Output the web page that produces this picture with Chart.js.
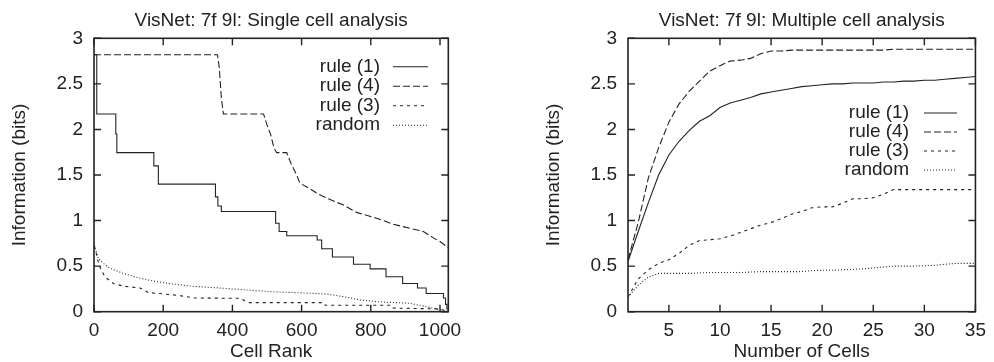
<!DOCTYPE html>
<html>
<head>
<meta charset="utf-8">
<script src="https://cdn.jsdelivr.net/npm/chart.js@4/dist/chart.umd.min.js"></script>
<style>
    body { margin: 0; background: #fff; }
    #wrap { position: relative; width: 994px; height: 362px; }
    canvas { position: absolute; top: 0; }
    #single { left: 0; }
    #multiple { left: 497px; }
</style>
</head>
<body>
<div id="wrap">
    <canvas id="single" width="497" height="362"></canvas>
    <canvas id="multiple" width="497" height="362"></canvas>
</div>
<script>
"use strict";

/* data: single cell analysis (x = cell rank, y = information in bits) */
var rankTicks = [0, 200, 400, 600, 800, 1000];
var rule1Rank = [0, 8, 63, 66, 173, 186, 351, 358, 368, 525, 535, 557, 645, 658, 689, 750, 798, 844, 892, 935, 960, 1010, 1016, 1020, 1024];
var rule1Info = [2.82, 2.17, 1.95, 1.745, 1.6, 1.4, 1.26, 1.16, 1.1, 0.97, 0.88, 0.834, 0.787, 0.69, 0.6, 0.52, 0.47, 0.384, 0.31, 0.26, 0.2, 0.15, 0.08, 0.03, 0];
var rule4Rank = [0, 357, 362, 368, 374, 490, 500, 510, 520, 528, 557, 570, 586, 595, 624, 644, 673, 721, 759, 817, 865, 913, 952, 981, 1000, 1024];
var rule4Info = [2.82, 2.82, 2.68, 2.35, 2.17, 2.17, 2.05, 1.95, 1.8, 1.745, 1.745, 1.62, 1.5, 1.41, 1.35, 1.3, 1.245, 1.17, 1.09, 1.025, 0.96, 0.915, 0.88, 0.81, 0.77, 0.7];
var rule3Rank = [0, 3, 10, 17, 32, 56, 85, 133, 157, 229, 268, 287, 422, 446, 663, 668, 860, 865, 1000, 1024];
var rule3Info = [0.72, 0.7, 0.58, 0.49, 0.38, 0.31, 0.28, 0.26, 0.21, 0.185, 0.165, 0.15, 0.147, 0.1, 0.1, 0.07, 0.07, 0.04, 0.03, 0];
var randomRank = [0, 3, 12, 27, 46, 85, 133, 181, 229, 277, 374, 509, 576, 673, 721, 769, 817, 913, 961, 1000, 1024];
var randomInfo = [0.76, 0.7, 0.585, 0.53, 0.476, 0.42, 0.367, 0.33, 0.304, 0.282, 0.257, 0.22, 0.21, 0.194, 0.165, 0.13, 0.11, 0.092, 0.055, 0.02, 0];

/* data: multiple cell analysis (x = number of cells) */
var cellTicks = [5, 10, 15, 20, 25, 30, 35];
var cellCounts = [1, 2, 3, 4, 5, 6, 7, 8, 9, 10, 11, 12, 13, 14, 15, 16, 17, 18, 19, 20, 21, 22, 23, 24, 25, 26, 27, 28, 29, 30, 31, 32, 33, 34, 35];
var multiRule1 = [0.55, 0.88, 1.2, 1.5, 1.72, 1.87, 1.99, 2.09, 2.15, 2.24, 2.29, 2.32, 2.35, 2.39, 2.41, 2.43, 2.45, 2.47, 2.48, 2.49, 2.5, 2.5, 2.51, 2.51, 2.51, 2.52, 2.52, 2.53, 2.53, 2.54, 2.54, 2.55, 2.56, 2.57, 2.58];
var multiRule4 = [0.57, 0.98, 1.47, 1.8, 2.08, 2.28, 2.42, 2.53, 2.64, 2.7, 2.75, 2.76, 2.78, 2.83, 2.86, 2.86, 2.87, 2.87, 2.87, 2.87, 2.87, 2.87, 2.87, 2.87, 2.87, 2.87, 2.88, 2.88, 2.88, 2.88, 2.88, 2.88, 2.88, 2.88, 2.88];
var multiRule3 = [0.16, 0.36, 0.46, 0.53, 0.57, 0.64, 0.73, 0.78, 0.79, 0.8, 0.83, 0.87, 0.91, 0.95, 0.98, 1.02, 1.07, 1.1, 1.14, 1.15, 1.15, 1.19, 1.24, 1.24, 1.25, 1.29, 1.34, 1.34, 1.34, 1.34, 1.34, 1.34, 1.34, 1.34, 1.34];
var multiRandom = [0.16, 0.29, 0.38, 0.42, 0.42, 0.42, 0.42, 0.425, 0.43, 0.43, 0.43, 0.43, 0.435, 0.44, 0.44, 0.44, 0.44, 0.44, 0.45, 0.455, 0.455, 0.46, 0.465, 0.47, 0.48, 0.49, 0.5, 0.5, 0.5, 0.505, 0.51, 0.52, 0.53, 0.53, 0.53];

var seriesLabels = ["rule (1)", "rule (4)", "rule (3)", "random"];
var infoTicks = [0, 0.5, 1, 1.5, 2, 2.5, 3];

var FONT = "'Liberation Sans', Arial, Helvetica, sans-serif";
var FSIZE = 19;
var INK = "#222";
var dashes = [[], [7, 3], [3, 4], [1, 2]];

function pairs(xs, ys) {
    return xs.map(function (x, i) {
        return { x: x, y: ys[i] };
    });
}

function lineSet(label, data, idx, stepped) {
    return {
        label: label,
        data: data,
        borderColor: INK,
        borderWidth: 1.1,
        borderDash: dashes[idx],
        pointRadius: 0,
        fill: false,
        tension: 0,
        stepped: stepped || false,
    };
}

/* gnuplot style frame, inward ticks on all sides and right aligned key */
var gnuFrame = {
    id: "gnuFrame",
    afterDatasetsDraw: function (chart, args, opts) {
        var ctx = chart.ctx;
        var a = chart.chartArea;
        var xs = chart.scales.x;
        var ys = chart.scales.y;
        ctx.save();
        ctx.strokeStyle = INK;
        ctx.lineWidth = 1.6;
        ctx.setLineDash([]);
        ctx.strokeRect(a.left, a.top, a.right - a.left, a.bottom - a.top);
        ctx.lineWidth = 1.4;
        ctx.beginPath();
        xs.ticks.forEach(function (t) {
            var px = xs.getPixelForValue(t.value);
            ctx.moveTo(px, a.bottom);
            ctx.lineTo(px, a.bottom - 7);
            ctx.moveTo(px, a.top);
            ctx.lineTo(px, a.top + 7);
        });
        ys.ticks.forEach(function (t) {
            var py = ys.getPixelForValue(t.value);
            ctx.moveTo(a.left, py);
            ctx.lineTo(a.left + 7, py);
            ctx.moveTo(a.right, py);
            ctx.lineTo(a.right - 7, py);
        });
        ctx.stroke();

        /* key */
        ctx.font = FSIZE + "px " + FONT;
        ctx.fillStyle = INK;
        ctx.textAlign = "right";
        ctx.textBaseline = "middle";
        chart.data.datasets.forEach(function (ds, i) {
            var y = opts.top + i * opts.gap;
            ctx.fillText(ds.label, opts.textRight, y);
            ctx.lineWidth = 1.1;
            ctx.setLineDash(ds.borderDash);
            ctx.beginPath();
            ctx.moveTo(opts.lineFrom, y);
            ctx.lineTo(opts.lineTo, y);
            ctx.stroke();
        });
        ctx.restore();
    },
};

function plainLabel(v) {
    return String(v);
}

function makeOptions(title, xTitle, xMin, xMax, xTickList, leftWidth, yTitlePad, rightPad, key) {
    return {
        responsive: false,
        animation: false,
        devicePixelRatio: 1,
        layout: { padding: { top: 0, right: rightPad, bottom: 0, left: 0 } },
        plugins: {
            legend: { display: false },
            tooltip: { enabled: false },
            title: {
                display: true,
                fullSize: false,
                text: title,
                color: INK,
                font: { family: FONT, size: FSIZE, weight: "normal" },
                padding: { top: 9, bottom: 6.5 },
            },
            gnuFrame: key,
        },
        scales: {
            x: {
                type: "linear",
                min: xMin,
                max: xMax,
                afterBuildTicks: function (scale) {
                    scale.ticks = xTickList.map(function (v) {
                        return { value: v };
                    });
                },
                afterFit: function (scale) {
                    scale.height = 50.3;
                },
                grid: { display: false, drawTicks: false },
                border: { display: false },
                ticks: {
                    color: INK,
                    padding: 8,
                    maxRotation: 0,
                    callback: plainLabel,
                    font: { family: FONT, size: FSIZE },
                },
                title: {
                    display: true,
                    text: xTitle,
                    color: INK,
                    font: { family: FONT, size: FSIZE },
                    padding: { top: 0, bottom: -1 },
                },
            },
            y: {
                min: 0,
                max: 3,
                afterBuildTicks: function (scale) {
                    scale.ticks = infoTicks.map(function (v) {
                        return { value: v };
                    });
                },
                afterFit: function (scale) {
                    scale.width = leftWidth;
                },
                grid: { display: false, drawTicks: false },
                border: { display: false },
                ticks: {
                    color: INK,
                    padding: 11,
                    callback: plainLabel,
                    font: { family: FONT, size: FSIZE },
                },
                title: {
                    display: true,
                    text: "Information (bits)",
                    color: INK,
                    font: { family: FONT, size: FSIZE },
                    padding: { top: yTitlePad, bottom: 0 },
                },
            },
        },
    };
}

/* Chart (#single) */
var singleChart = new Chart(document.getElementById("single"), {
    type: "line",
    data: {
        datasets: [
            lineSet(seriesLabels[0], pairs(rule1Rank, rule1Info), 0, true),
            lineSet(seriesLabels[1], pairs(rule4Rank, rule4Info), 1),
            lineSet(seriesLabels[2], pairs(rule3Rank, rule3Info), 2),
            lineSet(seriesLabels[3], pairs(randomRank, randomInfo), 3),
        ],
    },
    options: makeOptions("VisNet: 7f 9l: Single cell analysis", "Cell Rank", 0, 1024, rankTicks,
        94, 8.5, 48.7, { textRight: 380, lineFrom: 393, lineTo: 428, top: 66.7, gap: 19.5 }),
    plugins: [gnuFrame],
});
/* Chart (#single) closed */

/* Chart (#multiple) */
var multipleChart = new Chart(document.getElementById("multiple"), {
    type: "line",
    data: {
        datasets: [
            lineSet(seriesLabels[0], pairs(cellCounts, multiRule1), 0),
            lineSet(seriesLabels[1], pairs(cellCounts, multiRule4), 1),
            lineSet(seriesLabels[2], pairs(cellCounts, multiRule3), 2),
            lineSet(seriesLabels[3], pairs(cellCounts, multiRandom), 3),
        ],
    },
    options: makeOptions("VisNet: 7f 9l: Multiple cell analysis", "Number of Cells", 1, 35, cellTicks,
        131, 45.5, 11.3, { textRight: 412, lineFrom: 427, lineTo: 460, top: 113, gap: 19 }),
    plugins: [gnuFrame],
});
/* Chart (#multiple) closed */
</script>
</body>
</html>
